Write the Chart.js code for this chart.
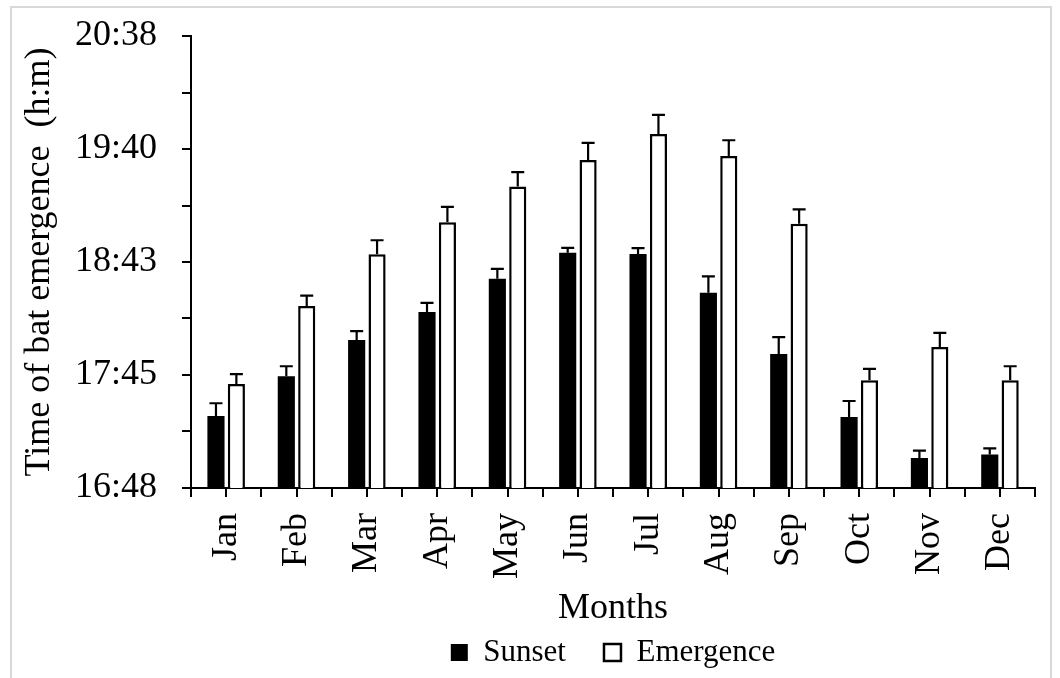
<!DOCTYPE html>
<html>
  <head>
    <title>Time of bat emergence</title>
    <script src="https://cdn.jsdelivr.net/npm/chart.js"></script>
    <style>
      body {
        margin: 0;
        background-color: #ffffff;
      }

      .chart-box {
        position: relative;
        width: 1060px;
        height: 678px;
        overflow: hidden;
      }

      .frame {
        position: absolute;
        left: 10px;
        top: 6px;
        width: 1038px;
        height: 700px;
        border: 2px solid #d9d9d9;
        pointer-events: none;
      }
    </style>
  </head>
  <body>
    <div class="chart-box">
      <canvas id="myChart" width="1060" height="678"></canvas>
      <div class="frame"></div>
    </div>

    <script>
      // values are fractions of a day (Excel time)
      var months = ["Jan", "Feb", "Mar", "Apr", "May", "Jun", "Jul", "Aug", "Sep", "Oct", "Nov", "Dec"];
      var sunset = [0.7255, 0.7396, 0.7524, 0.7623, 0.7741, 0.7833, 0.7828, 0.7691, 0.7474, 0.7251, 0.7106, 0.7119];
      var sunsetErr = [0.0045, 0.0035, 0.0031, 0.0032, 0.0035, 0.0017, 0.0021, 0.0058, 0.0060, 0.0057, 0.0026, 0.0021];
      var emergence = [0.7368, 0.7644, 0.7827, 0.7941, 0.8067, 0.8161, 0.8253, 0.8175, 0.7935, 0.7381, 0.7499, 0.7381];
      var emergenceErr = [0.0035, 0.0037, 0.0050, 0.0054, 0.0051, 0.0061, 0.0068, 0.0056, 0.0051, 0.0041, 0.0050, 0.0050];
      var yMin = 0.70;
      var yMax = 0.86;
      var yStep = 0.02;

      var serif = "'Liberation Serif', 'Times New Roman', serif";

      function formatTime(v) {
        // Excel drops the seconds, so floor the minutes
        var mins = Math.floor(v * 1440 + 1e-6);
        var h = Math.floor(mins / 60);
        var m = mins % 60;
        return h + ":" + (m < 10 ? "0" + m : m);
      }

      // upward error bars only, like the original
      var errorBars = {
        id: "errorBars",
        afterDatasetsDraw: function (chart) {
          var ctx = chart.ctx;
          var yScale = chart.scales.y;
          ctx.save();
          ctx.strokeStyle = "#000000";
          ctx.lineWidth = 2.2;
          chart.data.datasets.forEach(function (ds, i) {
            var meta = chart.getDatasetMeta(i);
            meta.data.forEach(function (bar, j) {
              var yTop = yScale.getPixelForValue(ds.data[j] + ds.errors[j]);
              ctx.beginPath();
              ctx.moveTo(bar.x, bar.y);
              ctx.lineTo(bar.x, yTop);
              ctx.moveTo(bar.x - 6.5, yTop);
              ctx.lineTo(bar.x + 6.5, yTop);
              ctx.stroke();
            });
          });
          ctx.restore();
        },
      };

      // tick marks between the months as well as under them
      var boundaryTicks = {
        id: "boundaryTicks",
        afterDraw: function (chart) {
          var ctx = chart.ctx;
          var xScale = chart.scales.x;
          var y0 = chart.chartArea.bottom;
          ctx.save();
          ctx.strokeStyle = "#000000";
          ctx.lineWidth = 2;
          for (var i = 0; i <= months.length; i++) {
            var x = Math.round(xScale.getPixelForValue(i - 0.5));
            ctx.beginPath();
            ctx.moveTo(x, y0);
            ctx.lineTo(x, y0 + 9);
            ctx.stroke();
          }
          ctx.restore();
        },
      };

      var ctx = document.getElementById("myChart").getContext("2d");
      var myChart = new Chart(ctx, {
        type: "bar",
        data: {
          labels: months,
          datasets: [
            {
              label: "Sunset",
              data: sunset,
              errors: sunsetErr,
              backgroundColor: "#000000",
              borderColor: "#000000",
              borderWidth: 0,
            },
            {
              label: "Emergence",
              data: emergence,
              errors: emergenceErr,
              backgroundColor: "#ffffff",
              borderColor: "#000000",
              borderWidth: 2.5,
            },
          ],
        },
        options: {
          responsive: false,
          animation: false,
          categoryPercentage: 0.58,
          barPercentage: 0.84,
          layout: {
            padding: { left: 14, right: 20, top: 36, bottom: 0 },
          },
          plugins: {
            tooltip: { enabled: false },
            legend: {
              position: "bottom",
              fullSize: false,
              labels: {
                color: "#000000",
                font: { family: serif, size: 31 },
                boxWidth: 17,
                boxHeight: 17,
                padding: 7,
                generateLabels: function (chart) {
                  var items = Chart.defaults.plugins.legend.labels.generateLabels(chart);
                  items[0].text = items[0].text + "\u00a0\u00a0\u00a0\u00a0";
                  return items;
                },
              },
            },
          },
          scales: {
            x: {
              offset: true,
              afterFit: function (scale) {
                scale.height = 142;
              },
              grid: {
                display: true,
                drawOnChartArea: false,
                offset: false,
                color: "#000000",
                lineWidth: 2,
                tickLength: 9,
              },
              border: { display: true, color: "#000000", width: 2 },
              ticks: {
                color: "#000000",
                font: { family: serif, size: 36 },
                minRotation: 90,
                maxRotation: 90,
                padding: 16,
              },
              title: {
                display: true,
                text: "Months",
                color: "#000000",
                font: { family: serif, size: 36 },
                padding: { top: 0, bottom: 0 },
              },
            },
            y: {
              min: yMin,
              max: yMax,
              afterFit: function (scale) {
                scale.width = 177;
                // labels fit inside the layout padding, do not add more
                scale.paddingTop = 0;
                scale.paddingBottom = 0;
              },
              grid: {
                display: true,
                drawOnChartArea: false,
                color: "#000000",
                lineWidth: 2,
                tickLength: 9,
              },
              border: { display: true, color: "#000000", width: 2 },
              ticks: {
                stepSize: yStep,
                color: "#000000",
                font: { family: serif, size: 36 },
                padding: 25,
                callback: function (value) {
                  var k = Math.round((value - yMin) / yStep);
                  return k % 2 === 0 ? formatTime(value) : "";
                },
              },
              title: {
                display: true,
                text: "Time of bat emergence  (h:m)",
                color: "#000000",
                font: { family: serif, size: 36 },
                padding: { top: 4, bottom: 0 },
              },
            },
          },
        },
        plugins: [errorBars, boundaryTicks],
      });
    </script>
  </body>
</html>
